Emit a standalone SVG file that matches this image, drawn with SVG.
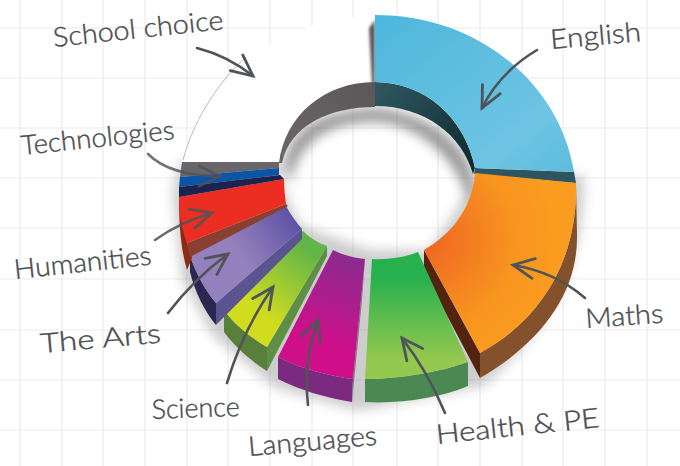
<svg xmlns="http://www.w3.org/2000/svg" width="680" height="466" viewBox="0 0 680 466">
<style>
.grid{stroke:#ececec;stroke-width:1.2;fill:none}
.lbl{font-family:"Lato","Open Sans",sans-serif;font-weight:300;font-size:27px;fill:#4b4d50;stroke:#4b4d50;stroke-width:.4}
.arr{fill:none;stroke:#505357;stroke-width:2.6;stroke-linecap:round;marker-end:url(#head)}
</style>
<defs>
<marker id="head" viewBox="-24 -13 28 26" refX="0" refY="0" markerWidth="28" markerHeight="26" markerUnits="userSpaceOnUse" orient="auto"><path d="M-21,-10 L0,0 L-21,10" fill="none" stroke="#505357" stroke-width="2.8" stroke-linecap="round"/></marker>
<filter id="b6" x="-30%" y="-30%" width="160%" height="160%"><feGaussianBlur stdDeviation="6"/></filter>
<filter id="b2" x="-100%" y="-30%" width="300%" height="160%"><feGaussianBlur stdDeviation="1.5"/></filter>
<linearGradient id="gE" x1="0" y1="0" x2="1" y2="1"><stop offset="0" stop-color="#4db7dc"/><stop offset=".75" stop-color="#6ec4e3"/><stop offset="1" stop-color="#5cbcdc"/></linearGradient>
<linearGradient id="gW" gradientUnits="userSpaceOnUse" x1="375" y1="90" x2="470" y2="170"><stop offset="0" stop-color="#2e5760"/><stop offset="1" stop-color="#0f2a30"/></linearGradient>
<radialGradient id="gO" gradientUnits="userSpaceOnUse" cx="425" cy="240" r="130"><stop offset="0" stop-color="#ef6423"/><stop offset=".7" stop-color="#f8951f"/><stop offset="1" stop-color="#fa9c20"/></radialGradient>
<linearGradient id="gH" x1="0" y1="0" x2="0" y2="1"><stop offset=".2" stop-color="#27b04e"/><stop offset=".85" stop-color="#95c84f"/></linearGradient>
<linearGradient id="gL" gradientUnits="userSpaceOnUse" x1="350" y1="260" x2="310" y2="370"><stop offset="0" stop-color="#8d2a8e"/><stop offset=".75" stop-color="#cf0f8a"/></linearGradient>
<linearGradient id="gS" gradientUnits="userSpaceOnUse" x1="315" y1="240" x2="245" y2="330"><stop offset=".1" stop-color="#62b548"/><stop offset=".8" stop-color="#d2dc1f"/></linearGradient>
<linearGradient id="gA" gradientUnits="userSpaceOnUse" x1="295" y1="218" x2="205" y2="280"><stop offset="0" stop-color="#5d53a4"/><stop offset=".6" stop-color="#9480bd"/></linearGradient>
<linearGradient id="gG" gradientUnits="userSpaceOnUse" x1="285" y1="163" x2="370" y2="95"><stop offset="0" stop-color="#6a6566"/><stop offset="1" stop-color="#5d5859"/></linearGradient>
</defs>
<rect width="680" height="466" fill="#fff"/>
<g id="grid" class="grid">
<path d="M20 0V466M62 0V466M103 0V466M145 0V466M187 0V466M228 0V466M270 0V466M312 0V466M353 0V466M397 0V466M438 0V466M480 0V466M522 0V466M563 0V466M605 0V466M647 0V466"/>
<path d="M0 28H680M0 78H680M0 128H680M0 178H680M0 228H680M0 279H680M0 330H680M0 380H680M0 430H680"/>
</g>
<g id="shadows">
<path d="M584 175C586 260 550 330 484 386L358 411 275 388 212 335 182 280 172 190 182 160 280 160 282 185 300 225 370 250 430 250 475 180Z" fill="#777" opacity=".36" filter="url(#b6)"/>
<path d="M284 165C290 125 325 110 375 108 425 112 465 140 474 178L470 205C455 150 410 122 375 122 330 122 298 140 290 185Z" fill="#444" opacity=".55" filter="url(#b6)"/>
</g>
<g id="school-choice">
<path d="M182 162C205 75 280 18 375 15L375 82C325 82 285 115 279 163Z" fill="#fff"/>
<path d="M183 160C192 125 215 85 246 57" fill="none" stroke="#bbb" stroke-width="1"/>
<path d="M369 28L375 20V84H372Z" fill="#555" filter="url(#b2)"/>
<path d="M279 163C285 115 325 82 375 82V107C330 107 290 125 282 163Z" fill="url(#gG)"/>
<text class="lbl" transform="translate(54 47) rotate(-6)" textLength="171" lengthAdjust="spacingAndGlyphs">School choice</text>
</g>
<g id="english">
<path d="M375 82C425 82 465 118 475 168L473 174C462 135 425 106 375 106Z" fill="url(#gW)"/>
<path d="M475 168L574 172 576 183 474 174Z" fill="#2c5560"/>
<path d="M375 15C480 15 560 85 574 172L475 168C465 118 425 82 375 82Z" fill="url(#gE)"/>
<text class="lbl" transform="translate(551 49) rotate(-5)" textLength="91" lengthAdjust="spacingAndGlyphs">English</text>
</g>
<g id="maths">
<path d="M424 250L480 353 480 378 424 272Z" fill="#52240f"/>
<path d="M576 183C578 255 545 318 480 353V378C545 340 578 290 577 235Z" fill="#83512b"/>
<path d="M475 173L576 183C578 255 545 318 480 353L424 250C450 235 472 210 475 173Z" fill="url(#gO)"/>
<text class="lbl" transform="translate(586 328) rotate(-4)" textLength="78" lengthAdjust="spacingAndGlyphs">Maths</text>
</g>
<g id="health-pe">
<path d="M365 379C400 379 440 372 468 362V386C440 398 400 404 365 402Z" fill="#4a8a52"/>
<path d="M372 259C390 260 405 257 418 252L468 362C440 372 400 379 365 379Z" fill="url(#gH)"/>
<text class="lbl" transform="translate(437 444) rotate(-6)" textLength="164" lengthAdjust="spacingAndGlyphs">Health &amp; PE</text>
</g>
<g id="languages">
<path d="M278 357C300 368 328 376 353 379L352 402C326 398 300 390 278 379Z" fill="#7c2a80"/>
<path d="M365 259L353 379 352 402 362 300Z" fill="#7d7d80"/>
<path d="M333 250C343 255 354 258 365 259L353 379C328 376 300 368 278 357Z" fill="url(#gL)"/>
<text class="lbl" transform="translate(249 456) rotate(-5)" textLength="129" lengthAdjust="spacingAndGlyphs">Languages</text>
</g>
<g id="science">
<path d="M224 310C235 325 250 337 267 347V371C250 360 235 347 224 332Z" fill="#58803a"/>
<path d="M327 246L267 347V371L327 256Z" fill="#5f8f46"/>
<path d="M303 231C310 238 318 243 327 246L267 347C250 337 235 325 224 310Z" fill="url(#gS)"/>
<text class="lbl" transform="translate(152 419) rotate(-2)" textLength="88" lengthAdjust="spacingAndGlyphs">Science</text>
</g>
<g id="the-arts">
<path d="M190 256C196 273 205 290 216 303V325C205 312 195 292 190 272Z" fill="#2b2750"/>
<path d="M302 229L216 303V325L302 239Z" fill="#5c5490"/>
<path d="M286 206C291 215 296 222 302 229L216 303C205 290 196 273 190 256Z" fill="url(#gA)"/>
<text class="lbl" transform="translate(41 353) rotate(-5)" textLength="121" lengthAdjust="spacingAndGlyphs">The Arts</text>
</g>
<g id="humanities">
<path d="M179 197C179 225 181 250 187 270L192 258 187 243Z" fill="#8e2a18"/>
<path d="M187 243L286 204 288 206 190 257Z" fill="#8a4030"/>
<path d="M284 179C284 188 285 196 286 204L187 243C181 228 179 212 179 197Z" fill="#ec2d22"/>
<text class="lbl" transform="translate(15 279) rotate(-6)" textLength="138" lengthAdjust="spacingAndGlyphs">Humanities</text>
</g>
<g id="technologies">
<path d="M182 162H279V168L180 177Z" fill="#69666a"/>
<path d="M180 177L279 168V175L179 187Z" fill="#0a56a4"/>
<path d="M179 187L280 175 284 179 179 197Z" fill="#1d2350"/>
<text class="lbl" transform="translate(22 155) rotate(-6)" textLength="154" lengthAdjust="spacingAndGlyphs">Technologies</text>
</g>
<g id="connectors">
<path class="arr" d="M197 48Q228 56 253 76"/>
<path class="arr" d="M537 50Q500 72 482 108"/>
<path class="arr" d="M148 154Q170 176 220 176" opacity=".8"/>
<path class="arr" d="M155 240Q180 222 212 213" opacity=".85"/>
<path class="arr" d="M168 313Q195 278 228 254"/>
<path class="arr" d="M227 383Q243 330 273 287"/>
<path class="arr" d="M308 405Q303 360 318 320"/>
<path class="arr" d="M445 413Q428 372 402 338"/>
<path class="arr" d="M585 298Q555 272 513 265"/>
</g>
</svg>
